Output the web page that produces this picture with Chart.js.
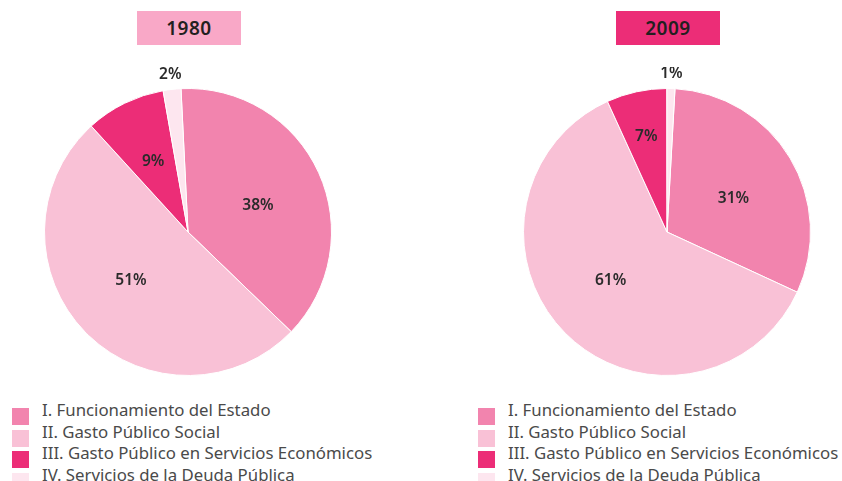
<!DOCTYPE html>
<html>
<head>
<meta charset="utf-8">
<script src="https://cdn.jsdelivr.net/npm/chart.js@4"></script>
<style>
    body { margin: 0; width: 842px; height: 481px; background: #fff; position: relative; overflow: hidden; font-family: 'Noto Sans', sans-serif; }
    .titulo { position: absolute; top: 11px; width: 104px; height: 34px; line-height: 34px; text-align: center; font-size: 19px; font-weight: 600; color: #231f20; letter-spacing: 0.5px; }
    .grafico { position: absolute; top: 67px; width: 340px; height: 330px; }
    .legenda { position: absolute; top: 399px; font-size: 16.8px; color: #4a4a4a; }
    .legenda div { height: 21.7px; line-height: 21.7px; position: relative; padding-left: 30px; white-space: nowrap; }
    .legenda span { position: absolute; left: 0; top: 9px; width: 17px; height: 17px; }
</style>
</head>
<body>
<div class="titulo" id="t1980" style="left:137px;background:#F9A8C7;">1980</div>
<div class="titulo" id="t2009" style="left:616px;background:#EC2D77;">2009</div>
<div class="grafico" style="left:18px;"><canvas id="pizza1980"></canvas></div>
<div class="grafico" style="left:497px;"><canvas id="pizza2009"></canvas></div>
<div class="legenda" id="legenda1980" style="left:12px;"></div>
<div class="legenda" id="legenda2009" style="left:478px;"></div>

<script>
// categorias e valores (%)
const categorias = [
    'I. Funcionamiento del Estado',
    'II. Gasto Público Social',
    'III. Gasto Público en Servicios Económicos',
    'IV. Servicios de la Deuda Pública'
];
const valores1980 = [38, 51, 9, 2];
const valores2009 = [31, 61.3, 6.8, 0.9];
const cores = ['#F284AE', '#F9C1D6', '#EC2D77', '#FDE6EF'];

// plugin simples para escrever os percentuais nas fatias
const rotulos = {
    id: 'rotulos',
    afterDatasetsDraw(chart) {
        const ctx = chart.ctx;
        const meta = chart.getDatasetMeta(0);
        const dados = chart.data.datasets[0].data;
        ctx.save();
        ctx.font = '600 15.5px "Noto Sans", sans-serif';
        ctx.fillStyle = '#2b2b2b';
        ctx.textAlign = 'center';
        ctx.textBaseline = 'middle';
        meta.data.forEach((arco, i) => {
            const v = dados[i];
            let meio = (arco.startAngle + arco.endAngle) / 2;
            let r;
            if (v < 3) r = arco.outerRadius + 15;
            else if (v < 8) r = arco.outerRadius * 0.68;
            else if (v < 15) r = arco.outerRadius * 0.55;
            else { r = arco.outerRadius * 0.52; meio += 0.07; }
            const x = arco.x + Math.cos(meio) * r;
            const y = arco.y + Math.sin(meio) * r;
            ctx.fillText(Math.round(v) + '%', x, y);
        });
        ctx.restore();
    }
};

function criarPizza(id, valores, rotacao) {
    return new Chart(document.getElementById(id), {
        type: 'pie',
        data: {
            labels: categorias,
            datasets: [{
                data: valores,
                backgroundColor: cores,
                borderColor: '#ffffff',
                borderWidth: 1
            }]
        },
        options: {
            responsive: true,
            maintainAspectRatio: false,
            animation: false,
            rotation: rotacao,
            layout: { padding: { top: 21, bottom: 21 } },
            plugins: {
                legend: { display: false },
                tooltip: { enabled: false }
            }
        },
        plugins: [rotulos]
    });
}

function criarLegenda(id) {
    const el = document.getElementById(id);
    categorias.forEach((c, i) => {
        const item = document.createElement('div');
        item.innerHTML = '<span style="background:' + cores[i] + '"></span>' + c;
        el.appendChild(item);
    });
}

criarPizza('pizza1980', valores1980, -2.8);
criarPizza('pizza2009', valores2009, 3.2);
criarLegenda('legenda1980');
criarLegenda('legenda2009');
</script>
</body>
</html>
